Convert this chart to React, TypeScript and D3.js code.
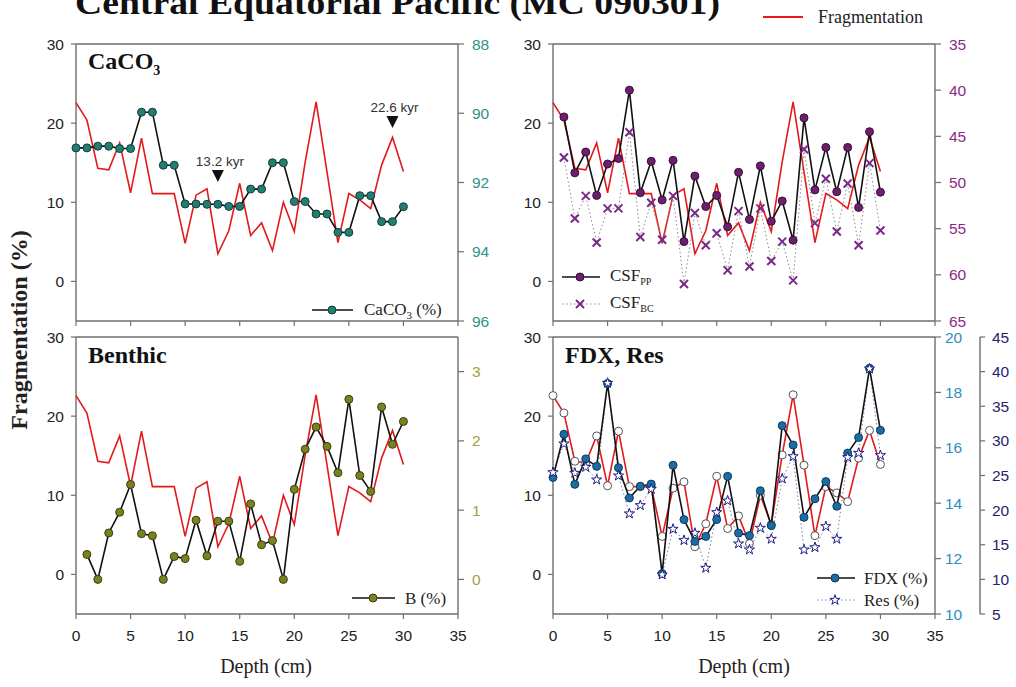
import React from "react";
import * as d3 from "d3";

// Depth of each sample (cm)
const DEPTH = [0, 1, 2, 3, 4, 5, 6, 7, 8, 9, 10, 11, 12, 13, 14, 15, 16, 17, 18, 19, 20, 21, 22, 23, 24, 25, 26, 27, 28, 29, 30];
const DEPTH_FROM_1 = DEPTH.slice(1);

// Fragmentation (%) — shared by all four panels
const FRAGMENTATION = [22.6, 20.4, 14.3, 14.1, 17.5, 11.2, 18.1, 11.1, 11.1, 11.1, 4.8, 10.9, 11.7, 3.5, 6.4, 12.4, 5.8, 7.4, 3.9, 10.0, 6.3, 15.1, 22.7, 13.8, 4.9, 11.1, 10.3, 9.2, 14.7, 18.2, 13.9];

// CaCO3 (%) at depths 0–30
const CACO3 = [91.0, 91.0, 90.95, 90.95, 91.02, 91.02, 89.97, 89.97, 91.5, 91.5, 92.62, 92.62, 92.63, 92.63, 92.69, 92.69, 92.19, 92.19, 91.43, 91.43, 92.55, 92.55, 92.91, 92.91, 93.44, 93.44, 92.38, 92.38, 93.13, 93.13, 92.7];

// Coarse shell fragments, depths 1–30
const CSF_PP = [42.9, 48.95, 46.7, 51.4, 48.0, 47.4, 40.0, 51.1, 47.7, 51.9, 47.6, 56.4, 49.3, 52.6, 51.4, 54.8, 48.9, 54.0, 48.2, 54.2, 52.0, 56.25, 43.0, 50.8, 46.2, 51.0, 46.2, 52.7, 44.5, 51.05];
const CSF_BC = [47.3, 53.9, 51.45, 56.5, 52.8, 52.8, 44.55, 55.9, 52.2, 56.2, 51.45, 61.0, 53.3, 56.8, 55.5, 59.5, 53.1, 59.1, 52.8, 58.5, 56.4, 60.6, 46.4, 54.4, 49.6, 55.3, 50.1, 56.8, 47.9, 55.2];

// Benthic foraminifera B (%), depths 1–30
const BENTHIC = [0.36, 0.0, 0.67, 0.97, 1.37, 0.66, 0.63, 0.0, 0.33, 0.3, 0.855, 0.34, 0.84, 0.84, 0.26, 1.09, 0.5, 0.56, 0.0, 1.3, 1.88, 2.2, 1.92, 1.54, 2.6, 1.5, 1.27, 2.49, 1.95, 2.28];

// FDX (%) and Res (%), depths 0–30
const FDX = [14.93, 16.49, 14.68, 15.6, 15.33, 18.32, 15.28, 14.19, 14.61, 14.69, 11.46, 15.37, 13.41, 12.62, 12.8, 13.41, 14.97, 12.92, 12.83, 14.45, 13.19, 16.8, 16.1, 13.49, 14.16, 14.78, 13.89, 15.81, 16.37, 18.87, 16.63];
const RES = [25.45, 29.59, 25.36, 26.22, 24.39, 38.35, 24.97, 19.49, 20.69, 23.05, 10.68, 17.27, 15.64, 16.69, 11.64, 19.68, 21.36, 15.15, 14.29, 17.42, 15.83, 24.54, 27.76, 14.29, 14.62, 17.66, 15.83, 27.62, 28.24, 40.42, 27.91];

// Age markers on the CaCO3 panel
const AGE_MARKS = [
  { depth: 13.0, label: "13.2 kyr" },
  { depth: 29.0, label: "22.6 kyr" },
];

// Tick values
const FRAG_TICKS = [0, 10, 20, 30];
const DEPTH_TICKS = [0, 5, 10, 15, 20, 25, 30, 35];
const CACO3_TICKS = [88, 90, 92, 94, 96];
const CSF_TICKS = [35, 40, 45, 50, 55, 60, 65];
const BENTHIC_TICKS = [0, 1, 2, 3];
const FDX_TICKS = [10, 12, 14, 16, 18, 20];
const RES_TICKS = [5, 10, 15, 20, 25, 30, 35, 40, 45];

const SERIF = "'Liberation Serif', 'Times New Roman', serif";
const SANS = "'Liberation Sans', Arial, sans-serif";
const AXIS = "#6e6e6e";
const RED = "#e3191c";
const TICK_FONT = 15.5;

type Scale = d3.ScaleLinear<number, number>;

function LeftAxis({ x, scale, ticks }: { x: number; scale: Scale; ticks: number[] }) {
  const [y0, y1] = scale.range();
  return (
    <g>
      <line x1={x} x2={x} y1={y0} y2={y1} stroke={AXIS} strokeWidth={1.4} />
      {ticks.map((t) => (
        <g key={t}>
          <line x1={x - 5} x2={x} y1={scale(t)} y2={scale(t)} stroke={AXIS} strokeWidth={1.2} />
          <text x={x - 12} y={scale(t)} dy="0.36em" textAnchor="end" fontFamily={SANS} fontSize={TICK_FONT} fill="#222">
            {t}
          </text>
        </g>
      ))}
    </g>
  );
}

function RightAxis({ x, scale, ticks, color, gap = 14, tickLen = 6 }: { x: number; scale: Scale; ticks: number[]; color: string; gap?: number; tickLen?: number }) {
  const [y0, y1] = scale.range();
  return (
    <g>
      <line x1={x} x2={x} y1={y0} y2={y1} stroke={AXIS} strokeWidth={1.4} />
      {ticks.map((t) => (
        <g key={t}>
          <line x1={x} x2={x + tickLen} y1={scale(t)} y2={scale(t)} stroke={AXIS} strokeWidth={1.2} />
          <text x={x + gap} y={scale(t)} dy="0.36em" textAnchor="start" fontFamily={SANS} fontSize={TICK_FONT} fill={color}>
            {t}
          </text>
        </g>
      ))}
    </g>
  );
}

function BottomAxis({ y, scale, ticks, labels }: { y: number; scale: Scale; ticks: number[]; labels: boolean }) {
  const [x0, x1] = scale.range();
  return (
    <g>
      <line x1={x0} x2={x1} y1={y} y2={y} stroke={AXIS} strokeWidth={1.4} />
      {ticks.map((t) => (
        <g key={t}>
          <line x1={scale(t)} x2={scale(t)} y1={y} y2={y + 5} stroke={AXIS} strokeWidth={1.2} />
          {labels && (
            <text x={scale(t)} y={y + 27} textAnchor="middle" fontFamily={SANS} fontSize={TICK_FONT} fill="#222">
              {t}
            </text>
          )}
        </g>
      ))}
    </g>
  );
}

function Frame({ xs, ys }: { xs: Scale; ys: Scale }) {
  const [x0, x1] = xs.range();
  const yt = ys.range()[1];
  return <line x1={x0} x2={x1} y1={yt} y2={yt} stroke={AXIS} strokeWidth={1.4} />;
}

function pathOf(xs: Scale, ys: Scale, depths: number[], values: number[]) {
  const line = d3
    .line<number>()
    .x((_, i) => xs(depths[i]))
    .y((v) => ys(v));
  return line(values) ?? "";
}

function Dots({ xs, ys, depths, values, r = 4, fill, stroke }: { xs: Scale; ys: Scale; depths: number[]; values: number[]; r?: number; fill: string; stroke: string }) {
  return (
    <g>
      {values.map((v, i) => (
        <circle key={i} cx={xs(depths[i])} cy={ys(v)} r={r} fill={fill} stroke={stroke} strokeWidth={1} />
      ))}
    </g>
  );
}

const starPath = d3.symbol().type(d3.symbolStar).size(32)() ?? "";

function Stars({ xs, ys, depths, values }: { xs: Scale; ys: Scale; depths: number[]; values: number[] }) {
  return (
    <g>
      {values.map((v, i) => (
        <path key={i} d={starPath} transform={`translate(${xs(depths[i])},${ys(v)})`} fill="#fff" stroke="#1c1c84" strokeWidth={1} />
      ))}
    </g>
  );
}

function Crosses({ xs, ys, depths, values, color }: { xs: Scale; ys: Scale; depths: number[]; values: number[]; color: string }) {
  const s = 4;
  return (
    <g>
      {values.map((v, i) => {
        const cx = xs(depths[i]);
        const cy = ys(v);
        return (
          <g key={i} stroke={color} strokeWidth={2}>
            <line x1={cx - s} x2={cx + s} y1={cy - s} y2={cy + s} />
            <line x1={cx - s} x2={cx + s} y1={cy + s} y2={cy - s} />
          </g>
        );
      })}
    </g>
  );
}

export default function App() {
  // Panel geometry
  const colL: [number, number] = [76, 458];
  const colR: [number, number] = [553, 935];
  const rowT: [number, number] = [321, 44];
  const rowB: [number, number] = [614, 337];

  const xL = d3.scaleLinear().domain([0, 35]).range(colL);
  const xR = d3.scaleLinear().domain([0, 35]).range(colR);
  const fragT = d3.scaleLinear().domain([-5, 30]).range(rowT);
  const fragB = d3.scaleLinear().domain([-5, 30]).range(rowB);

  const yCaco3 = d3.scaleLinear().domain([96, 88]).range(rowT);
  const yCsf = d3.scaleLinear().domain([65, 35]).range(rowT);
  const yBenthic = d3.scaleLinear().domain([-0.5, 3.5]).range(rowB);
  const yFdx = d3.scaleLinear().domain([10, 20]).range(rowB);
  const yRes = d3.scaleLinear().domain([5, 45]).range(rowB);

  const fragLine = (xs: Scale, ys: Scale) => (
    <path d={pathOf(xs, ys, DEPTH, FRAGMENTATION)} fill="none" stroke={RED} strokeWidth={1.6} />
  );

  return (
    <svg width={1016} height={687} style={{ position: "absolute", left: 0, top: 0, background: "#fff" }}>
      <rect width={1016} height={687} fill="#fff" />

      {/* Title */}
      <text x={75} y={14} fontFamily={SERIF} fontWeight="bold" fontSize={34} textLength={645} lengthAdjust="spacingAndGlyphs" fill="#111">
        Central Equatorial Pacific (MC 090301)
      </text>

      {/* Fragmentation legend */}
      <line x1={763} x2={803} y1={17} y2={17} stroke={RED} strokeWidth={1.8} />
      <text x={818} y={23} fontFamily={SERIF} fontSize={18} fill="#222">
        Fragmentation
      </text>

      {/* Shared y label */}
      <text transform="translate(27,330) rotate(-90)" textAnchor="middle" fontFamily={SERIF} fontWeight="bold" fontSize={24} fill="#222">
        Fragmentation (%)
      </text>

      {/* ---------- CaCO3 panel ---------- */}
      <g>
        <Frame xs={xL} ys={fragT} />
        <LeftAxis x={colL[0]} scale={fragT} ticks={FRAG_TICKS} />
        <RightAxis x={colL[1]} scale={yCaco3} ticks={CACO3_TICKS} color="#2f9385" />
        <BottomAxis y={rowT[0]} scale={xL} ticks={DEPTH_TICKS} labels={false} />
        {fragLine(xL, fragT)}
        <path d={pathOf(xL, yCaco3, DEPTH, CACO3)} fill="none" stroke="#111" strokeWidth={1.6} />
        <Dots xs={xL} ys={yCaco3} depths={DEPTH} values={CACO3} fill="#237d72" stroke="#123f39" />
        <text x={88} y={69} fontFamily={SERIF} fontWeight="bold" fontSize={24} fill="#111">
          CaCO<tspan fontSize={14} dy={6}>3</tspan>
        </text>
        {AGE_MARKS.map((m, i) => {
          const cx = xL(m.depth);
          const tipY = i === 0 ? 182 : 128;
          return (
            <g key={m.label}>
              <text x={cx + 2} y={tipY - 16} textAnchor="middle" fontFamily={SANS} fontSize={13.5} fill="#333">
                {m.label}
              </text>
              <path d={`M${cx - 6},${tipY - 12}L${cx + 6},${tipY - 12}L${cx},${tipY}Z`} fill="#111" />
            </g>
          );
        })}
        {/* legend */}
        <line x1={312} x2={353} y1={310} y2={310} stroke="#111" strokeWidth={1.6} />
        <circle cx={332} cy={310} r={4} fill="#237d72" stroke="#123f39" />
        <text x={364} y={315} fontFamily={SERIF} fontSize={17} fill="#222">
          CaCO<tspan fontSize={11} dy={4}>3</tspan>
          <tspan dy={-4}> (%)</tspan>
        </text>
      </g>

      {/* ---------- CSF panel ---------- */}
      <g>
        <Frame xs={xR} ys={fragT} />
        <LeftAxis x={colR[0]} scale={fragT} ticks={FRAG_TICKS} />
        <RightAxis x={colR[1]} scale={yCsf} ticks={CSF_TICKS} color="#8a2a88" />
        <BottomAxis y={rowT[0]} scale={xR} ticks={DEPTH_TICKS} labels={false} />
        {fragLine(xR, fragT)}
        <path d={pathOf(xR, yCsf, DEPTH_FROM_1, CSF_BC)} fill="none" stroke="#8a8a8a" strokeWidth={1} strokeDasharray="1.5,2.5" />
        <path d={pathOf(xR, yCsf, DEPTH_FROM_1, CSF_PP)} fill="none" stroke="#111" strokeWidth={1.6} />
        <Dots xs={xR} ys={yCsf} depths={DEPTH_FROM_1} values={CSF_PP} fill="#6c1f6c" stroke="#3a0c3a" />
        <Crosses xs={xR} ys={yCsf} depths={DEPTH_FROM_1} values={CSF_BC} color="#7a2a88" />
        {/* legend */}
        <line x1={562} x2={600} y1={277} y2={277} stroke="#111" strokeWidth={1.6} />
        <circle cx={580} cy={277} r={4} fill="#6c1f6c" stroke="#3a0c3a" />
        <text x={610} y={281} fontFamily={SERIF} fontSize={17} fill="#222">
          CSF<tspan fontSize={10} dy={4}>PP</tspan>
        </text>
        <line x1={562} x2={600} y1={304} y2={304} stroke="#8a8a8a" strokeWidth={1} strokeDasharray="1.5,2.5" />
        <g stroke="#7a2a88" strokeWidth={2}>
          <line x1={576} x2={584} y1={300} y2={308} />
          <line x1={576} x2={584} y1={308} y2={300} />
        </g>
        <text x={610} y={308} fontFamily={SERIF} fontSize={17} fill="#222">
          CSF<tspan fontSize={10} dy={4}>BC</tspan>
        </text>
      </g>

      {/* ---------- Benthic panel ---------- */}
      <g>
        <Frame xs={xL} ys={fragB} />
        <LeftAxis x={colL[0]} scale={fragB} ticks={FRAG_TICKS} />
        <RightAxis x={colL[1]} scale={yBenthic} ticks={BENTHIC_TICKS} color="#a3a03a" />
        <BottomAxis y={rowB[0]} scale={xL} ticks={DEPTH_TICKS} labels={true} />
        {fragLine(xL, fragB)}
        <path d={pathOf(xL, yBenthic, DEPTH_FROM_1, BENTHIC)} fill="none" stroke="#111" strokeWidth={1.6} />
        <Dots xs={xL} ys={yBenthic} depths={DEPTH_FROM_1} values={BENTHIC} fill="#7b8120" stroke="#3a3c0e" />
        <text x={88} y={363} fontFamily={SERIF} fontWeight="bold" fontSize={24} fill="#111">
          Benthic
        </text>
        {/* legend */}
        <line x1={352} x2={395} y1={598} y2={598} stroke="#111" strokeWidth={1.6} />
        <circle cx={373} cy={598} r={4} fill="#7b8120" stroke="#3a3c0e" />
        <text x={405} y={604} fontFamily={SERIF} fontSize={17} fill="#222">
          B (%)
        </text>
        <text x={266} y={673} textAnchor="middle" fontFamily={SERIF} fontSize={20} fill="#222">
          Depth (cm)
        </text>
      </g>

      {/* ---------- FDX, Res panel ---------- */}
      <g>
        <Frame xs={xR} ys={fragB} />
        <LeftAxis x={colR[0]} scale={fragB} ticks={FRAG_TICKS} />
        <RightAxis x={colR[1]} scale={yFdx} ticks={FDX_TICKS} color="#2b8fc6" gap={10} />
        <RightAxis x={980} scale={yRes} ticks={RES_TICKS} color="#25246e" gap={12} tickLen={5} />
        <BottomAxis y={rowB[0]} scale={xR} ticks={DEPTH_TICKS} labels={true} />
        {fragLine(xR, fragB)}
        <Dots xs={xR} ys={fragB} depths={DEPTH} values={FRAGMENTATION} fill="#fff" stroke="#555" />
        <path d={pathOf(xR, yRes, DEPTH, RES)} fill="none" stroke="#7a7ab0" strokeWidth={1} strokeDasharray="1.5,2.5" />
        <path d={pathOf(xR, yFdx, DEPTH, FDX)} fill="none" stroke="#111" strokeWidth={1.6} />
        <Dots xs={xR} ys={yFdx} depths={DEPTH} values={FDX} fill="#1b6ca3" stroke="#0d3a5e" />
        <Stars xs={xR} ys={yRes} depths={DEPTH} values={RES} />
        <text x={565} y={363} fontFamily={SERIF} fontWeight="bold" fontSize={24} fill="#111">
          FDX, Res
        </text>
        {/* legend */}
        <line x1={817} x2={855} y1={578} y2={578} stroke="#111" strokeWidth={1.6} />
        <circle cx={835} cy={578} r={4} fill="#1b6ca3" stroke="#0d3a5e" />
        <text x={864} y={584} fontFamily={SERIF} fontSize={17} fill="#222">
          FDX (%)
        </text>
        <line x1={817} x2={855} y1={600} y2={600} stroke="#7a7ab0" strokeWidth={1} strokeDasharray="1.5,2.5" />
        <path d={starPath} transform="translate(835,600)" fill="#fff" stroke="#1c1c84" strokeWidth={1} />
        <text x={864} y={606} fontFamily={SERIF} fontSize={17} fill="#222">
          Res (%)
        </text>
        <text x={744} y={673} textAnchor="middle" fontFamily={SERIF} fontSize={20} fill="#222">
          Depth (cm)
        </text>
      </g>
    </svg>
  );
}
